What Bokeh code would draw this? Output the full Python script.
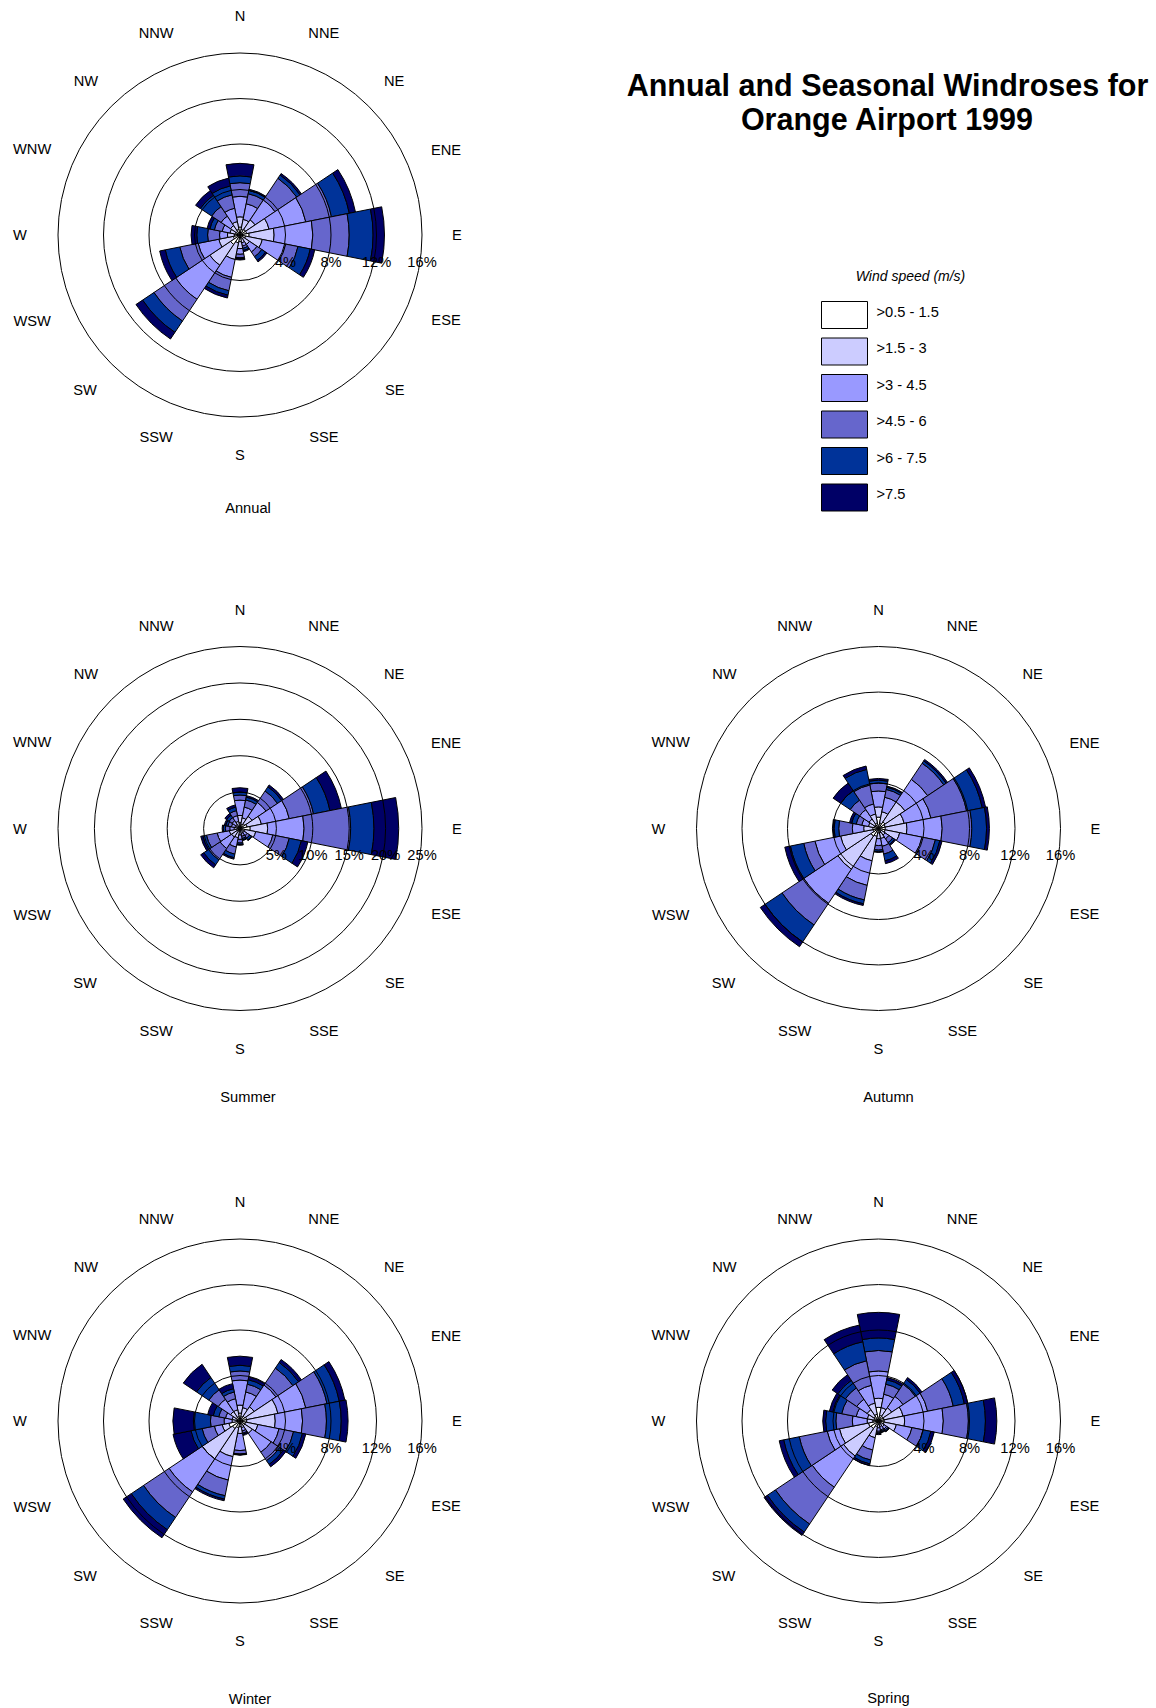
import numpy as np
from bokeh.plotting import figure
from bokeh.layouts import column, row
from bokeh.models import Range1d, ColumnDataSource
from bokeh.core.properties import value
from bokeh.embed import file_html
from bokeh.resources import INLINE

# ---------------- data ----------------
directions = ["N", "NNE", "NE", "ENE", "E", "ESE", "SE", "SSE",
              "S", "SSW", "SW", "WSW", "W", "WNW", "NW", "NNW"]
speed_classes = [">0.5 - 1.5", ">1.5 - 3", ">3 - 4.5", ">4.5 - 6", ">6 - 7.5", ">7.5"]
class_colors = ["#FFFFFF", "#CCCCFF", "#9999FF", "#6666CC", "#003399", "#000066"]

# cumulative frequency (%) at the outer edge of each speed class, per direction
annual_cum = [
    [0.7, 1.6, 3.4, 4.6, 5.2, 6.3],
    [0.5, 1.4, 2.8, 3.7, 4.0, 4.1],
    [0.6, 1.6, 3.7, 6.0, 6.35, 6.5],
    [0.6, 2.6, 5.9, 8.2, 9.8, 10.35],
    [0.8, 3.0, 6.4, 9.6, 11.7, 12.7],
    [0.5, 2.0, 4.1, 5.2, 6.3, 6.7],
    [0.4, 1.0, 1.8, 2.3, 2.7, 2.85],
    [0.3, 0.7, 1.0, 1.2, 1.4, 1.5],
    [0.6, 1.2, 1.7, 2.0, 2.1, 2.2],
    [0.7, 2.2, 3.8, 5.0, 5.4, 5.65],
    [1.0, 3.2, 6.8, 9.1, 10.3, 11.0],
    [0.6, 1.9, 3.75, 5.4, 6.7, 7.2],
    [0.5, 1.1, 1.8, 2.85, 3.8, 4.3],
    [0.4, 0.9, 1.6, 2.3, 2.7, 2.95],
    [0.4, 1.0, 2.0, 3.0, 4.2, 4.7],
    [0.5, 1.2, 2.4, 3.6, 4.4, 5.1],
]
summer_cum = [
    [0.8, 1.8, 3.9, 4.6, 5.0, 5.6],
    [0.6, 1.5, 3.0, 4.0, 4.4, 4.6],
    [0.8, 2.0, 4.3, 6.2, 6.9, 7.2],
    [1.0, 3.0, 6.9, 10.3, 12.6, 14.2],
    [1.4, 3.8, 8.8, 15.2, 18.4, 21.8],
    [0.7, 2.2, 4.6, 6.9, 8.6, 9.5],
    [0.3, 0.7, 1.2, 1.6, 1.9, 2.0],
    [0.3, 0.7, 1.1, 1.4, 1.6, 1.7],
    [0.4, 0.9, 1.5, 2.0, 2.2, 2.3],
    [0.4, 1.3, 2.6, 3.6, 4.1, 4.3],
    [0.5, 1.4, 3.3, 5.2, 6.0, 6.5],
    [0.5, 1.5, 3.2, 4.7, 5.2, 5.5],
    [0.3, 0.8, 1.4, 2.0, 2.3, 2.45],
    [0.3, 0.7, 1.2, 1.7, 2.0, 2.2],
    [0.3, 0.7, 1.3, 1.8, 2.2, 2.5],
    [0.4, 1.0, 1.8, 2.5, 3.0, 3.3],
]
autumn_cum = [
    [1.0, 1.9, 3.3, 4.0, 4.25, 4.4],
    [0.5, 1.5, 2.8, 3.5, 3.7, 3.8],
    [0.7, 2.8, 5.2, 6.9, 7.15, 7.3],
    [0.6, 2.3, 4.7, 7.9, 9.3, 9.6],
    [0.6, 2.5, 5.6, 8.2, 9.5, 9.75],
    [0.6, 1.9, 3.9, 5.1, 5.5, 5.7],
    [0.3, 0.7, 1.1, 1.5, 1.7, 1.8],
    [0.4, 0.9, 1.6, 2.3, 2.9, 3.15],
    [0.4, 0.9, 1.5, 1.9, 2.05, 2.1],
    [0.7, 2.9, 5.1, 6.4, 6.75, 6.9],
    [0.8, 4.3, 7.9, 10.2, 12.0, 12.5],
    [0.5, 3.4, 5.7, 6.7, 7.9, 8.4],
    [0.5, 1.3, 2.3, 3.5, 3.9, 4.05],
    [0.4, 0.9, 1.5, 2.0, 2.4, 2.6],
    [0.4, 1.0, 2.0, 3.0, 4.0, 4.8],
    [0.5, 1.3, 2.2, 3.9, 5.3, 5.6],
]
winter_cum = [
    [0.7, 1.4, 3.6, 4.4, 4.9, 5.7],
    [0.4, 1.2, 2.6, 3.3, 3.7, 3.95],
    [0.5, 1.5, 3.8, 5.6, 6.2, 6.5],
    [0.6, 3.4, 5.9, 7.8, 8.9, 9.4],
    [0.6, 3.1, 5.5, 7.6, 8.9, 9.5],
    [0.5, 1.6, 3.5, 4.8, 5.6, 5.9],
    [0.5, 1.3, 3.3, 4.2, 4.6, 4.85],
    [0.3, 0.6, 0.9, 1.1, 1.2, 1.3],
    [0.5, 1.1, 2.6, 2.9, 2.97, 3.0],
    [0.6, 3.2, 5.3, 6.7, 7.0, 7.15],
    [0.8, 4.0, 7.5, 10.2, 11.5, 12.35],
    [1.0, 1.6, 2.3, 3.4, 4.4, 6.0],
    [0.3, 0.7, 1.4, 2.6, 4.1, 5.9],
    [0.3, 0.7, 1.3, 1.9, 2.4, 2.9],
    [0.4, 1.0, 2.3, 3.3, 4.6, 6.0],
    [0.4, 1.0, 2.0, 2.6, 2.9, 3.35],
]
spring_cum = [
    [1.2, 2.0, 4.4, 6.2, 7.3, 9.55],
    [0.5, 1.2, 2.4, 3.3, 3.7, 3.9],
    [0.5, 1.4, 2.6, 3.9, 4.4, 4.6],
    [0.5, 2.2, 4.4, 6.7, 7.7, 8.0],
    [0.5, 2.3, 5.7, 7.9, 9.4, 10.4],
    [0.5, 1.6, 3.0, 4.0, 4.7, 5.0],
    [0.3, 0.6, 0.85, 1.0, 1.1, 1.15],
    [0.3, 0.5, 0.8, 0.9, 1.0, 1.05],
    [0.3, 0.6, 0.9, 1.0, 1.1, 1.2],
    [0.5, 1.5, 2.6, 3.5, 3.85, 4.0],
    [0.8, 3.7, 7.0, 10.9, 11.75, 12.1],
    [0.9, 3.5, 4.6, 7.1, 8.5, 8.9],
    [0.5, 1.0, 2.3, 3.75, 4.65, 4.9],
    [0.4, 1.0, 2.0, 3.3, 4.1, 4.4],
    [0.5, 1.2, 2.3, 3.5, 4.3, 4.9],
    [0.6, 1.6, 3.2, 5.4, 7.1, 8.6],
]
rings_16 = [4, 8, 12, 16]
rings_25 = [5, 10, 15, 20, 25]

title_lines = ["Annual and Seasonal Windroses for", "Orange Airport 1999"]
legend_title = "Wind speed (m/s)"

# ---------------- style / layout ----------------
FONT = value("Liberation Sans")
OUTER_PX = 182.0          # pixel radius of the outermost ring
LABEL_R_PX = [219, 219, 218, 223, 217, 223, 219, 219,
              220, 219, 219, 225, 220, 225, 218, 219]
COL_W = [570, 580]
ROW_H = [594, 594, 518]


def rose_figure(cum, rings, name, width, height, cx, cy, sub_dx, sub_dy):
    s = OUTER_PX / rings[-1]   # pixels per percent
    p = figure(width=width, height=height,
               x_range=Range1d(-cx / s, (width - cx) / s),
               y_range=Range1d(-(height - cy) / s, cy / s),
               output_backend="svg", toolbar_location=None, tools="",
               x_axis_location=None, y_axis_location=None, min_border=0)
    p.grid.grid_line_color = None
    p.outline_line_color = None
    p.background_fill_color = "white"
    p.border_fill_color = "white"

    inner, outer, start, end, color = [], [], [], [], []
    for i, _ in enumerate(directions):
        theta = 22.5 * i
        a0 = np.radians(90 - theta - 11.25)
        a1 = np.radians(90 - theta + 11.25)
        prev = 0.0
        for k in range(len(speed_classes)):
            r = cum[i][k]
            inner.append(prev)
            outer.append(r)
            start.append(a0)
            end.append(a1)
            color.append(class_colors[k])
            prev = r
    src = ColumnDataSource(dict(inner=inner, outer=outer, start=start, end=end, color=color))
    p.annular_wedge(x=0, y=0, inner_radius="inner", outer_radius="outer",
                    start_angle="start", end_angle="end", fill_color="color",
                    line_color="black", line_width=1, source=src)

    # rings on top of bars
    for r in rings:
        p.arc(x=0, y=0, radius=r, start_angle=0, end_angle=2 * np.pi,
              line_color="black", line_width=1)

    # ring labels
    p.text(x=rings, y=[-26.5 / s] * len(rings), text=[f"{r}%" for r in rings],
           text_font=FONT, text_font_size="11pt", text_align="center",
           text_baseline="middle", text_color="black")

    # direction labels
    lx, ly = [], []
    for i, _ in enumerate(directions):
        t = np.radians(22.5 * i)
        rr = LABEL_R_PX[i] / s
        lx.append(rr * np.sin(t))
        ly.append(rr * np.cos(t))
    p.text(x=lx, y=ly, text=directions, text_font=FONT, text_font_size="11pt",
           text_align="center", text_baseline="middle", text_color="black")

    # subtitle
    p.text(x=[sub_dx / s], y=[-sub_dy / s], text=[name], text_font=FONT,
           text_font_size="11pt", text_align="center", text_baseline="middle",
           text_color="black")
    return p


def title_figure(width, height, x0, y0):
    p = figure(width=width, height=height,
               x_range=Range1d(x0, x0 + width), y_range=Range1d(y0 + height, y0),
               output_backend="svg", toolbar_location=None, tools="",
               x_axis_location=None, y_axis_location=None, min_border=0)
    p.grid.grid_line_color = None
    p.outline_line_color = None
    p.background_fill_color = "white"
    p.border_fill_color = "white"

    p.text(x=[887, 887], y=[84, 118], text=title_lines, text_font=FONT,
           text_font_size="30.5px", text_font_style="bold", text_align="center",
           text_baseline="middle", text_color="black")

    p.text(x=[910], y=[275], text=[legend_title], text_font=FONT,
           text_font_size="14px", text_font_style="italic", text_align="center",
           text_baseline="middle", text_color="black")

    n = len(speed_classes)
    tops = [301 + 36.5 * i for i in range(n)]
    p.quad(left=[821] * n, right=[867] * n, top=tops, bottom=[t + 27 for t in tops],
           fill_color=class_colors, line_color="black", line_width=1)
    p.text(x=[876] * n, y=[t + 10 for t in tops], text=speed_classes, text_font=FONT,
           text_font_size="11pt", text_align="left", text_baseline="middle",
           text_color="black")
    return p


# rose centres in page pixels: columns at x = 239.5 / 878, rows at y = 234.5 / 828 / 1420.5
p_annual = rose_figure(annual_cum, rings_16, "Annual", COL_W[0], ROW_H[0], 239.5, 234.5, 8, 272.5)
p_title = title_figure(COL_W[1], ROW_H[0], COL_W[0], 0)
p_summer = rose_figure(summer_cum, rings_25, "Summer", COL_W[0], ROW_H[1], 239.5, 828 - 594, 8, 268)
p_autumn = rose_figure(autumn_cum, rings_16, "Autumn", COL_W[1], ROW_H[1], 878 - 570, 828 - 594, 10, 268)
p_winter = rose_figure(winter_cum, rings_16, "Winter", COL_W[0], ROW_H[2], 239.5, 1420.5 - 1188, 10, 278)
p_spring = rose_figure(spring_cum, rings_16, "Spring", COL_W[1], ROW_H[2], 878 - 570, 1420.5 - 1188, 10, 277)

layout = column(row(p_annual, p_title), row(p_summer, p_autumn), row(p_winter, p_spring))

open("out.html", "w").write(file_html(layout, INLINE))
